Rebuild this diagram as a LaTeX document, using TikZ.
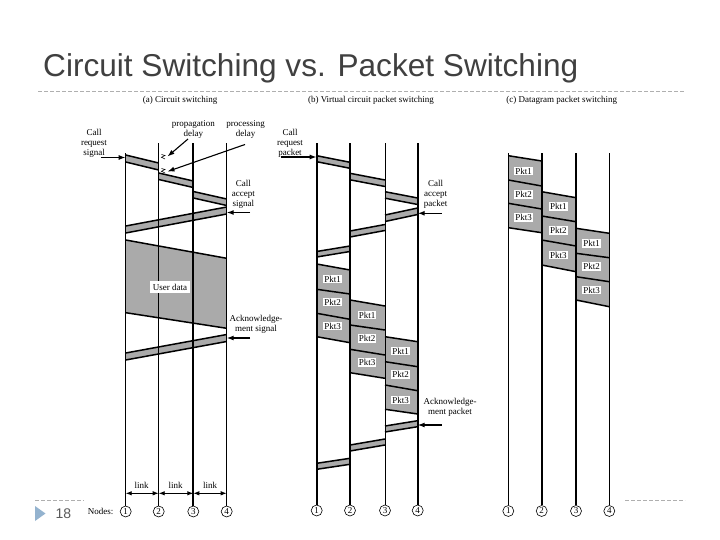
\documentclass[tikz,border=0pt]{standalone}
\usepackage{fontspec}
\setmainfont{Liberation Serif}
\newfontfamily\titlefont{Liberation Sans}
\usetikzlibrary{arrows.meta}
\definecolor{pktgray}{RGB}{170,170,170}
\definecolor{titlegray}{RGB}{64,64,64}
\definecolor{dashgray}{RGB}{175,175,175}
\definecolor{tricol}{RGB}{148,179,207}
\definecolor{pagegray}{RGB}{90,90,90}
\pgfdeclarelayer{bg}
\pgfsetlayers{bg,main}
\tikzset{
 thinline/.style={line width=0.9pt},
 thickline/.style={line width=1.8pt},
 edge/.style={line width=1.5pt},
 lbl/.style={font=\fontsize{9}{10}\selectfont, align=center, inner sep=0pt},
 pktlab/.style={fill=white, font=\fontsize{9}{10}\selectfont, inner sep=1.2pt},
 nd/.style={circle, draw, line width=0.6pt, minimum size=11pt, inner sep=0pt, font=\fontsize{9}{9}\selectfont},
 arr/.style={line width=1.3pt, -{Latex[length=7pt,width=5pt]}},
 linkarr/.style={line width=0.9pt, {Latex[length=6pt,width=4.5pt]}-{Latex[length=6pt,width=4.5pt]}},
 dashline/.style={dashgray, line width=0.8pt, dash pattern=on 4pt off 2pt},
}
\newcommand{\tband}[5]{%
 \begin{pgfonlayer}{bg}\fill[pktgray] (#1,#2)--(#3,#4)--(#3,{#4+#5})--(#1,{#2+#5})--cycle;\end{pgfonlayer}
 \draw[edge] (#1,#2)--(#3,#4);
 \draw[edge] (#1,{#2+#5})--(#3,{#4+#5});}
\newcommand{\pktcol}[6]{%
 \begin{pgfonlayer}{bg}\fill[pktgray] (#1,#3)--(#2,#4)--(#2,#6)--(#1,#5)--cycle;\end{pgfonlayer}}
\begin{document}
\begin{tikzpicture}[x=1pt,y=-1pt]
\useasboundingbox (0,0) rectangle (720,540);
\begin{pgfonlayer}{bg}\fill[white] (0,0) rectangle (720,540);\end{pgfonlayer}

% title and frame
\node[anchor=base west, inner sep=0pt, font=\titlefont\fontsize{31.6}{32}\selectfont, text=titlegray] (title) at (43,77) {Circuit Switching vs. Packet Switching};
\draw[dashline] (38,91.5) -- (685,91.5);
\draw[dashline] (35,500) -- (84,500);
\draw[dashline] (625,500) -- (685,500);
\fill[tricol] (35,506) -- (45.5,513.5) -- (35,521) -- cycle;
\node[font=\titlefont\fontsize{14}{14}\selectfont, text=pagegray] (page) at (63.5,514) {18};

% ================= (a) circuit switching =================
\node[lbl] (ta) at (180,100) {(a) Circuit switching};
\node[nd] (a1) at (125.7,511.5) {1};
\node[nd] (a2) at (158.7,511.5) {2};
\node[nd] (a3) at (193.3,511.5) {3};
\node[nd] (a4) at (226.7,511.5) {4};
\node[lbl] (nodes) at (100.7,511.5) {Nodes:};
\coordinate (a1t) at (125.7,153);
\coordinate (a2t) at (158.7,143);
\coordinate (a3t) at (193.3,143);
\coordinate (a4t) at (226.7,143);
\draw[thinline] (a1) -- (a1t);
\draw[thinline] (a2) -- (a2t);
\draw[thickline] (a3) -- (a3t);
\draw[thinline] (a4) -- (a4t);

\tband{125.7}{155}{158.7}{163}{7}
\tband{158.7}{173}{193.3}{181}{6.5}
\tband{193.3}{191.5}{226.7}{199}{6.5}
\tband{226.7}{207}{125.7}{226}{7}
% user data
\begin{pgfonlayer}{bg}\fill[pktgray] (125.7,240) -- (226.7,258.3) -- (226.7,328.3) -- (125.7,312.7) -- cycle;\end{pgfonlayer}
\draw[edge] (125.7,240) -- (226.7,258.3);
\draw[edge] (125.7,312.7) -- (226.7,328.3);
\node[pktlab, inner xsep=3pt, inner ysep=3pt] (ud) at (170,287) {User data};
\tband{226.7}{334.5}{125.7}{353}{7}

% delay markers
\draw[line width=0.6pt] (161.5,154.5) -- (165,155.5) -- (161.5,157.3) -- (165,159);
\draw[line width=0.6pt] (161.5,168.5) -- (165,169.5) -- (161.5,171.3) -- (165,173);
\node[lbl] (prop) at (193.3,129) {propagation\\delay};
\node[lbl] (proc) at (245.7,129) {processing\\delay};
\coordinate (propend) at (167.5,156.5);
\coordinate (procend) at (167.5,171.5);
\draw[arr, line width=1.1pt] (188,139) -- (propend);
\draw[arr, line width=1.1pt] (245,144.5) -- (procend);

\node[lbl] (creqa) at (94,143.5) {Call\\request\\signal};
\coordinate (creqaend) at (125.7,157.5);
\draw[arr] (101,157.5) -- (creqaend);
\node[lbl] (cacca) at (243.3,194.5) {Call\\accept\\signal};
\coordinate (caccaend) at (226.7,212.5);
\draw[arr] (250,212.5) -- (caccaend);
\node[lbl] (acka) at (256,324.5) {Acknowledge-\\ment signal};
\coordinate (ackaend) at (226.7,338);
\draw[arr] (250,338) -- (ackaend);

% links
\coordinate (l1) at (125.7,493.3);
\coordinate (l2) at (158.7,493.3);
\coordinate (l3) at (193.3,493.3);
\coordinate (l4) at (226.7,493.3);
\draw[linkarr] (l1) -- (l2);
\draw[linkarr] (l2) -- (l3);
\draw[linkarr] (l3) -- (l4);
\node[lbl] (lk1) at (141.7,485) {link};
\node[lbl] (lk2) at (175.7,485) {link};
\node[lbl] (lk3) at (210,485) {link};

% ================= (b) virtual circuit =================
\node[lbl] (tb) at (371,100) {(b) Virtual circuit packet switching};
\node[nd] (b1) at (316.7,510.5) {1};
\node[nd] (b2) at (350,510.5) {2};
\node[nd] (b3) at (385,510.5) {3};
\node[nd] (b4) at (417.7,510.5) {4};
\coordinate (b1t) at (316.7,143);
\coordinate (b2t) at (350,143);
\coordinate (b3t) at (385,143);
\coordinate (b4t) at (417.7,143);
\draw[thickline] (b1) -- (b1t);
\draw[thickline] (b2) -- (b2t);
\draw[thinline] (b3) -- (b3t);
\draw[thickline] (b4) -- (b4t);

\tband{316.7}{155.7}{350}{162.3}{6}
\tband{350}{173.3}{385}{180}{6.5}
\tband{385}{191.7}{417.7}{198}{6.5}
\tband{417.7}{208}{385}{215}{6.5}
\tband{385}{224.5}{350}{231}{6}
\tband{350}{246}{316.7}{251.5}{5.5}

\pktcol{316.7}{350}{264}{270}{336.7}{342.7}
\foreach \a/\b in {264/270, 289.3/294, 313.3/319.3, 336.7/342.7} \draw[edge] (316.7,\a) -- (350,\b);
\pktcol{350}{385}{300}{306}{372.7}{378.3}
\foreach \a/\b in {300/306, 325/330, 349.3/355, 372.7/378.3} \draw[edge] (350,\a) -- (385,\b);
\pktcol{385}{417.7}{336.7}{341.7}{409.3}{414}
\foreach \a/\b in {336.7/341.7, 361.7/366.7, 385/390.7, 409.3/414} \draw[edge] (385,\a) -- (417.7,\b);
\node[pktlab] (b1p1) at (332.7,279) {Pkt1};
\node[pktlab] (b1p2) at (332.7,302) {Pkt2};
\node[pktlab] (b1p3) at (332.7,326) {Pkt3};
\node[pktlab] (b2p1) at (367,315) {Pkt1};
\node[pktlab] (b2p2) at (367,338.5) {Pkt2};
\node[pktlab] (b2p3) at (367,362.5) {Pkt3};
\node[pktlab] (b3p1) at (400.5,351) {Pkt1};
\node[pktlab] (b3p2) at (400.5,374.5) {Pkt2};
\node[pktlab] (b3p3) at (400.5,400) {Pkt3};

\tband{417.7}{420.7}{385}{426}{6}
\tband{385}{439}{350}{445}{6}
\tband{350}{458.3}{316.7}{463.3}{6}

\node[lbl] (creqb) at (290,143.5) {Call\\request\\packet};
\coordinate (creqbend) at (316.7,157);
\draw[arr] (281,157) -- (creqbend);
\node[lbl] (caccb) at (435.5,194.5) {Call\\accept\\packet};
\coordinate (caccbend) at (417.7,213.3);
\draw[arr] (441.7,213.3) -- (caccbend);
\node[lbl] (ackb) at (450,407.5) {Acknowledge-\\ment packet};
\coordinate (ackbend) at (417.7,425);
\draw[arr] (441.7,425) -- (ackbend);

% ================= (c) datagram =================
\node[lbl] (tc) at (561.7,100) {(c) Datagram packet switching};
\node[nd] (c1) at (508.3,511) {1};
\node[nd] (c2) at (541.7,511) {2};
\node[nd] (c3) at (576,511) {3};
\node[nd] (c4) at (609.3,511) {4};
\coordinate (c1t) at (508.3,153);
\coordinate (c2t) at (541.7,153);
\coordinate (c3t) at (576,153);
\coordinate (c4t) at (609.3,153);
\draw[thinline] (c1) -- (c1t);
\draw[thickline] (c2) -- (c2t);
\draw[thickline] (c3) -- (c3t);
\draw[thinline] (c4) -- (c4t);

\pktcol{508.3}{541.7}{155.7}{161}{227.7}{232.7}
\foreach \a/\b in {155.7/161, 180/186, 203.3/209, 227.7/232.7} \draw[edge] (508.3,\a) -- (541.7,\b);
\pktcol{541.7}{576}{191.7}{197.7}{265}{271.7}
\foreach \a/\b in {191.7/197.7, 216/221.7, 240/246, 265/271.7} \draw[edge] (541.7,\a) -- (576,\b);
\pktcol{576}{609.3}{228.3}{233.3}{300}{306.7}
\foreach \a/\b in {228.3/233.3, 253.3/257.7, 276.7/281.7, 300/306.7} \draw[edge] (576,\a) -- (609.3,\b);
\node[pktlab] (c1p1) at (523.5,171) {Pkt1};
\node[pktlab] (c1p2) at (523.5,194.3) {Pkt2};
\node[pktlab] (c1p3) at (523.5,217.7) {Pkt3};
\node[pktlab] (c2p1) at (558.3,206.7) {Pkt1};
\node[pktlab] (c2p2) at (558.3,230.7) {Pkt2};
\node[pktlab] (c2p3) at (558.3,255) {Pkt3};
\node[pktlab] (c3p1) at (591.7,243.3) {Pkt1};
\node[pktlab] (c3p2) at (591.7,266.7) {Pkt2};
\node[pktlab] (c3p3) at (591.7,290) {Pkt3};
\end{tikzpicture}
\end{document}
